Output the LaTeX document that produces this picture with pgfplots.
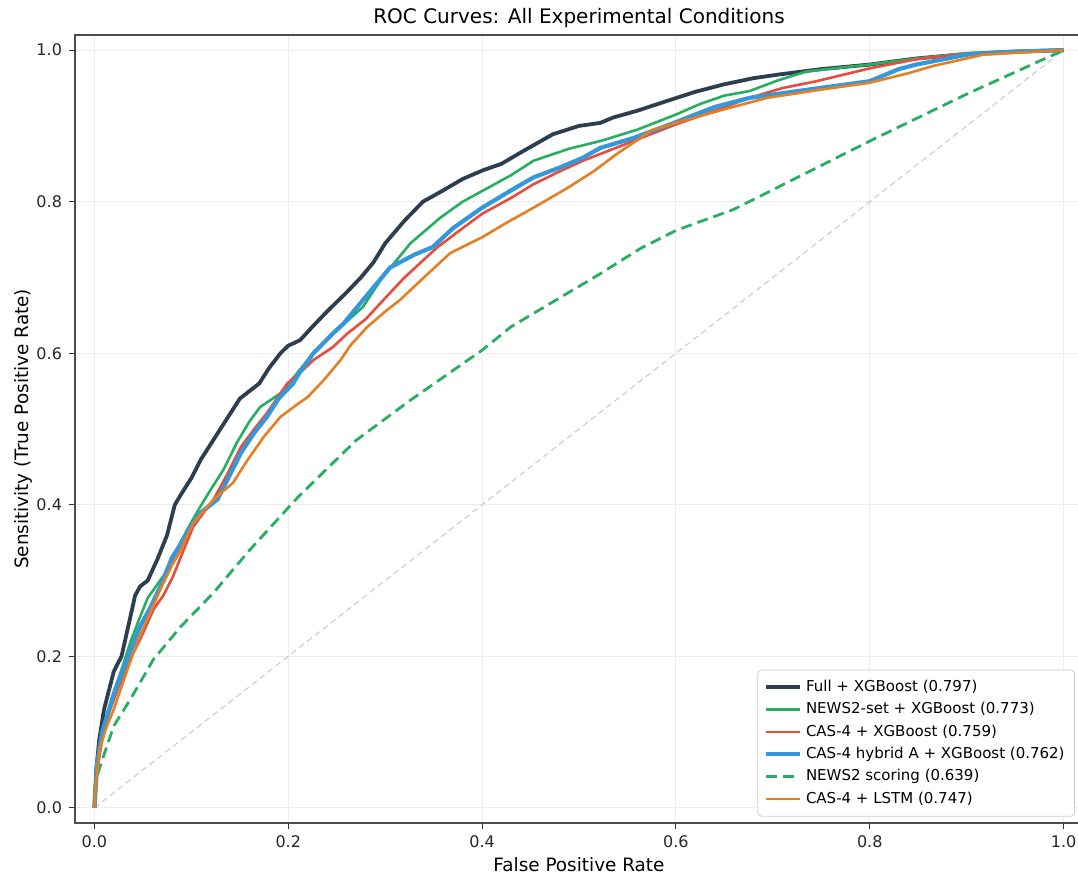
\documentclass[border=0pt]{standalone}
\usepackage{fontspec}
\setmainfont{DejaVu Sans}
\usepackage{pgfplots}
\pgfplotsset{compat=1.18}

\definecolor{cfull}{HTML}{2C3E50}
\definecolor{cgreen}{HTML}{27AE60}
\definecolor{cred}{HTML}{E74C3C}
\definecolor{cblue}{HTML}{3498DB}
\definecolor{corange}{HTML}{E67E22}

\begin{document}
\begin{tikzpicture}
\useasboundingbox (0,0) rectangle (539pt,439.5pt);
\begin{axis}[
  at={(37.5pt,28pt)}, anchor=south west,
  width=504pt, height=394pt, scale only axis,
  xmin=-0.02, xmax=1.02, ymin=-0.02, ymax=1.02,
  xtick={0,0.2,...,1.0}, ytick={0,0.2,...,1.0},
  xticklabel style={/pgf/number format/.cd, fixed, fixed zerofill, precision=1},
  yticklabel style={/pgf/number format/.cd, fixed, fixed zerofill, precision=1},
  /pgf/number format/assume math mode=true,
  ticklabel style={font=\fontsize{8}{10}\selectfont, text=black!85},
  tick align=outside, tick pos=left,
  major tick length=3pt,
  tick style={black!80, line width=0.5pt},
  axis line style={black!70, line width=0.6pt},
  grid=major, grid style={black!7, line width=0.5pt},
  title={ROC Curves: All Experimental Conditions},
  title style={font=\fontsize{10}{12}\selectfont, yshift=-6pt},
  xlabel={False Positive Rate}, ylabel={Sensitivity (True Positive Rate)},
  label style={font=\fontsize{9.2}{11}\selectfont},
  xlabel style={yshift=2pt}, ylabel style={yshift=-5pt},
  legend style={at={(0.992,0.008)}, anchor=south east,
    font=\fontsize{7.5}{9}\selectfont, draw=black!20, rounded corners=2pt,
    fill=white, cells={anchor=west}, row sep=0pt, inner sep=3pt},
  legend image code/.code={\draw[#1] (0pt,0pt) -- (17pt,0pt);},
]
\addplot[forget plot, black!22, dash pattern=on 3pt off 2pt, line width=0.5pt] coordinates {(0,0) (1,1)};

\addplot[cfull, line width=1.9pt] table {
x y
0 0
0.002 0.05
0.005 0.09
0.01 0.13
0.02 0.18
0.028 0.2
0.035 0.24
0.042 0.28
0.047 0.292
0.055 0.30
0.065 0.328
0.075 0.36
0.083 0.40
0.09 0.415
0.1 0.435
0.11 0.46
0.12 0.48
0.13 0.50
0.14 0.52
0.15 0.54
0.16 0.55
0.17 0.56
0.18 0.58
0.192 0.60
0.2 0.61
0.212 0.617
0.225 0.635
0.24 0.655
0.26 0.68
0.275 0.70
0.288 0.72
0.30 0.745
0.32 0.775
0.339 0.80
0.36 0.815
0.38 0.83
0.40 0.841
0.42 0.85
0.44 0.865
0.473 0.889
0.50 0.90
0.522 0.904
0.535 0.911
0.56 0.92
0.591 0.933
0.62 0.945
0.65 0.955
0.68 0.963
0.707 0.968
0.75 0.975
0.80 0.981
0.848 0.989
0.90 0.995
0.95 0.998
1 1
};
\addlegendentry{Full + XGBoost (0.797)}

\addplot[cgreen, line width=1.3pt] table {
x y
0 0
0.003 0.06
0.008 0.10
0.02 0.153
0.03 0.19
0.037 0.218
0.045 0.245
0.055 0.277
0.065 0.295
0.078 0.318
0.085 0.341
0.097 0.37
0.109 0.397
0.12 0.42
0.133 0.446
0.147 0.482
0.16 0.51
0.171 0.529
0.192 0.547
0.21 0.575
0.226 0.60
0.25 0.63
0.277 0.661
0.295 0.696
0.31 0.72
0.326 0.745
0.357 0.779
0.38 0.80
0.40 0.814
0.43 0.835
0.453 0.854
0.49 0.87
0.522 0.88
0.56 0.895
0.60 0.915
0.625 0.929
0.65 0.94
0.676 0.946
0.705 0.96
0.735 0.972
0.77 0.977
0.80 0.981
0.848 0.989
0.90 0.996
0.95 0.999
1 1
};
\addlegendentry{NEWS2-set + XGBoost (0.773)}

\addplot[cred, line width=1.3pt] table {
x y
0 0
0.003 0.05
0.008 0.09
0.015 0.125
0.025 0.16
0.037 0.196
0.05 0.23
0.061 0.262
0.071 0.28
0.081 0.305
0.092 0.34
0.102 0.371
0.113 0.39
0.123 0.407
0.137 0.44
0.151 0.476
0.165 0.50
0.178 0.521
0.199 0.56
0.212 0.574
0.226 0.591
0.246 0.608
0.261 0.626
0.28 0.645
0.298 0.670
0.32 0.70
0.354 0.740
0.38 0.765
0.40 0.784
0.43 0.805
0.453 0.823
0.48 0.84
0.504 0.854
0.53 0.867
0.556 0.88
0.6 0.902
0.64 0.92
0.676 0.937
0.71 0.95
0.745 0.959
0.80 0.976
0.848 0.988
0.90 0.995
0.95 0.998
1 1
};
\addlegendentry{CAS-4 + XGBoost (0.759)}

\addplot[cblue, line width=2.1pt] table {
x y
0 0
0.003 0.06
0.008 0.10
0.02 0.15
0.035 0.20
0.047 0.239
0.058 0.265
0.068 0.292
0.08 0.33
0.09 0.35
0.099 0.371
0.11 0.39
0.127 0.407
0.14 0.44
0.151 0.468
0.165 0.495
0.178 0.516
0.19 0.54
0.205 0.56
0.212 0.575
0.226 0.60
0.246 0.626
0.257 0.639
0.277 0.67
0.29 0.69
0.305 0.713
0.33 0.73
0.349 0.740
0.37 0.765
0.40 0.792
0.43 0.815
0.453 0.832
0.48 0.845
0.504 0.858
0.522 0.871
0.556 0.884
0.6 0.905
0.64 0.925
0.676 0.937
0.72 0.945
0.76 0.952
0.80 0.959
0.83 0.975
0.848 0.981
0.90 0.994
0.95 0.998
1 1
};
\addlegendentry{CAS-4 hybrid A + XGBoost (0.762)}

\addplot[cgreen, line width=1.4pt, dash pattern=on 5.5pt off 3pt] table {
x y
0 0
0.002 0.04
0.02 0.108
0.037 0.143
0.061 0.196
0.089 0.239
0.123 0.284
0.16 0.34
0.21 0.41
0.27 0.485
0.326 0.538
0.4 0.604
0.43 0.635
0.522 0.705
0.563 0.738
0.6 0.762
0.66 0.79
0.8 0.88
0.9 0.942
1 1
};
\addlegendentry{NEWS2 scoring (0.639)}

\addplot[corange, line width=1.3pt] table {
x y
0 0
0.002 0.04
0.006 0.08
0.012 0.105
0.02 0.13
0.032 0.175
0.044 0.218
0.055 0.25
0.068 0.288
0.08 0.32
0.089 0.34
0.102 0.376
0.123 0.407
0.143 0.429
0.158 0.459
0.175 0.49
0.192 0.516
0.212 0.535
0.220 0.542
0.237 0.565
0.254 0.591
0.264 0.61
0.281 0.634
0.30 0.655
0.315 0.670
0.34 0.70
0.367 0.732
0.40 0.753
0.425 0.772
0.453 0.792
0.488 0.818
0.515 0.84
0.539 0.863
0.576 0.895
0.60 0.904
0.65 0.922
0.694 0.937
0.75 0.948
0.80 0.957
0.841 0.970
0.865 0.979
0.917 0.994
0.97 0.998
1 1
};
\addlegendentry{CAS-4 + LSTM (0.747)}
\end{axis}
\end{tikzpicture}
\end{document}
